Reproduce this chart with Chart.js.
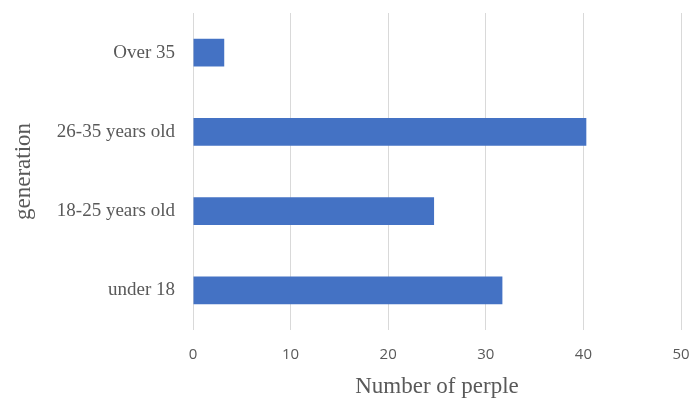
<!DOCTYPE html>
<html>
<head>
<meta charset="utf-8">
<script src="https://cdn.jsdelivr.net/npm/chart.js@4"></script>
<style>
  html, body { margin: 0; padding: 0; background: #ffffff; }
  #wrap { width: 691px; height: 401px; position: relative; }
</style>
</head>
<body>
<div id="wrap"><canvas id="chart"></canvas></div>
<script>
// Respondents by age group
const categories = ['Over 35', '26-35 years old', '18-25 years old', 'under 18'];
const people = [3.2, 40.3, 24.7, 31.7];
const xTicks = [0, 10, 20, 30, 40, 50];

const serif = '"Liberation Serif", "Times New Roman", serif';
const sans = '"Open Sans", "Liberation Sans", Arial, sans-serif';
const grey = '#595959';

new Chart(document.getElementById('chart'), {
  type: 'bar',
  data: {
    labels: categories,
    datasets: [{
      data: people,
      backgroundColor: '#4472C4',
      borderWidth: 0,
      barPercentage: 0.35,
      categoryPercentage: 1.0
    }]
  },
  options: {
    indexAxis: 'y',
    responsive: true,
    maintainAspectRatio: false,
    animation: false,
    layout: { padding: { top: 13, right: 10, left: 0, bottom: 0 } },
    plugins: { legend: { display: false }, tooltip: { enabled: false } },
    scales: {
      x: {
        min: 0,
        max: 50,
        afterBuildTicks: (scale) => { scale.ticks = xTicks.map(v => ({ value: v })); },
        afterFit: (scale) => {
          scale.height = 71;
          scale.paddingLeft = 0;
          scale.paddingRight = 0;
        },
        grid: { color: '#d9d9d9', lineWidth: 1, drawTicks: false },
        border: { display: false },
        ticks: { color: grey, padding: 16, font: { family: sans, size: 15 } },
        title: {
          display: true,
          text: 'Number of perple',
          color: grey,
          padding: { top: 0, bottom: 0 },
          font: { family: serif, size: 23 }
        }
      },
      y: {
        afterFit: (scale) => {
          scale.width = 193;
          scale.paddingTop = 0;
          scale.paddingBottom = 0;
        },
        grid: { display: false, drawTicks: false },
        border: { display: false },
        ticks: { color: grey, padding: 18, font: { family: serif, size: 19 } },
        title: {
          display: true,
          text: 'generation',
          color: grey,
          padding: { top: 10, bottom: 0 },
          font: { family: serif, size: 23 }
        }
      }
    }
  }
});
</script>
</body>
</html>
